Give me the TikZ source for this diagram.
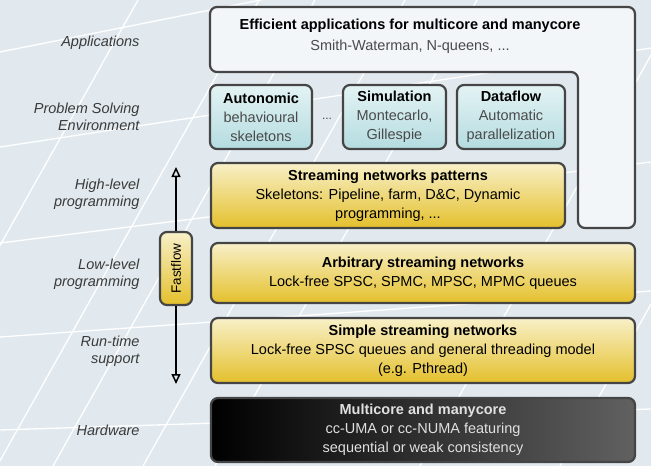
\documentclass[tikz,border=0pt]{standalone}
\usepackage{fontspec}
\setmainfont{Liberation Sans}
\usetikzlibrary{arrows.meta}
\definecolor{bg}{HTML}{E1E9EF}
\definecolor{boxline}{HTML}{454545}
\definecolor{appfill}{HTML}{F2F6F9}
\definecolor{psetop}{HTML}{E4F3F4}
\definecolor{psebot}{HTML}{B4DCE0}
\definecolor{yeltop}{HTML}{F8F0C8}
\definecolor{yelbot}{HTML}{E4C02C}
\definecolor{labtext}{HTML}{3A3A3A}
\definecolor{subtext}{HTML}{4A4A4A}
\begin{document}
\begin{tikzpicture}[x=1pt,y=-1pt,
  box/.style={draw=boxline, line width=2.2pt, rounded corners=7pt, align=center, inner sep=2pt,
    font=\fontsize{14.5}{19}\selectfont},
  appbox/.style={box, fill=appfill},
  psebox/.style={box, top color=psetop, bottom color=psebot, minimum height=64pt},
  yelbox/.style={box, top color=yeltop, bottom color=yelbot},
  hwbox/.style={box, left color=black, right color=black!62, text=white!88!black},
  lab/.style={anchor=east, align=right, text=labtext, font=\fontsize{14.5}{17}\selectfont\itshape},
  bgline/.style={white, line width=1.3pt},
  ffarrow/.style={line width=1.8pt, -{Triangle[open, length=10pt, width=9pt, line width=1.5pt]}}]
\useasboundingbox (0,0) rectangle (651,466);
\fill[bg] (0,0) rectangle (651,466);
% background grid lines
\begin{scope}
\clip (0,0) rectangle (651,466);
\draw[bgline] (0,52) -- (651,-78);
\draw[bgline] (0,147) -- (651,48);
\draw[bgline] (0,243) -- (651,162);
\draw[bgline] (0,337) -- (651,291);
\draw[bgline] (0,430) -- (651,409);
\draw[bgline] (-124,466) -- (138,0);
\draw[bgline] (-3,466) -- (259,0);
\draw[bgline] (53,466) -- (315,0);
\draw[bgline] (143,466) -- (405,0);
\draw[bgline] (215,466) -- (477,0);
\draw[bgline] (420,466) -- (682,0);
\draw[bgline] (560,466) -- (822,0);
\end{scope}
% Applications (inverted L)
\draw[draw=boxline, line width=2.2pt, rounded corners=7pt, fill=appfill]
  (210,7) -- (635,7) -- (635,228) -- (578,228) -- (578,72) -- (210,72) -- cycle;
\node[align=center, font=\fontsize{14.5}{21}\selectfont] (app) at (410,36)
  {\textbf{Efficient applications for multicore and manycore}\\ \textcolor{subtext}{Smith-Waterman, N-queens, ...}};
% PSE
\node[psebox, minimum width=102pt] (auto) at (261,117)
  {\textbf{Autonomic}\\ \textcolor{subtext}{behavioural}\\ \textcolor{subtext}{skeletons}};
\node[font=\fontsize{12}{15}\selectfont, text=subtext] (dots) at (327,119) {...};
\node[psebox, minimum width=103pt] (sim) at (394.5,117)
  {\textbf{Simulation}\\ \textcolor{subtext}{Montecarlo,}\\ \textcolor{subtext}{Gillespie}};
\node[psebox, minimum width=108pt] (dfl) at (511,117)
  {\textbf{Dataflow}\\ \textcolor{subtext}{Automatic}\\ \textcolor{subtext}{parallelization}};
% Streaming networks patterns
\node[yelbox, minimum width=354pt, minimum height=65pt] (pat) at (388,195.5)
  {\textbf{Streaming networks patterns}\\ Skeletons: Pipeline, farm, D\&C, Dynamic\\ programming, ...};
% Arbitrary
\node[yelbox, minimum width=424pt, minimum height=60pt] (arb) at (423,273)
  {\textbf{Arbitrary streaming networks}\\ Lock-free SPSC, SPMC, MPSC, MPMC queues};
% Simple
\node[yelbox, minimum width=424pt, minimum height=65pt] (sim2) at (423,350.5)
  {\textbf{Simple streaming networks}\\ Lock-free SPSC queues and general threading model\\ (e.g. Pthread)};
% Hardware
\node[hwbox, minimum width=424pt, minimum height=64pt] (hw) at (423,430)
  {\textbf{Multicore and manycore}\\ cc-UMA or cc-NUMA featuring\\ sequential or weak consistency};
% Labels
\node[lab] (l1) at (143,43) {Applications};
\node[lab] (l2) at (143,117) {Problem Solving\\ Environment};
\node[lab] (l3) at (143,194) {High-level\\ programming};
\node[lab] (l4) at (143,274) {Low-level\\ programming};
\node[lab] (l5) at (143,351) {Run-time\\ support};
\node[lab] (l6) at (143,430) {Hardware};
% Fastflow
\coordinate (fftop) at (176,167);
\coordinate (ffbot) at (176,384);
\node[box, rotate=90, top color=yeltop, bottom color=yelbot, minimum width=73pt, minimum height=32pt,
  inner sep=1pt, font=\fontsize{13.5}{15}\selectfont] (ff) at (176,268.5) {Fastflow};
\draw[ffarrow] (ff) -- (fftop);
\draw[ffarrow] (ff) -- (ffbot);
\end{tikzpicture}
\end{document}
